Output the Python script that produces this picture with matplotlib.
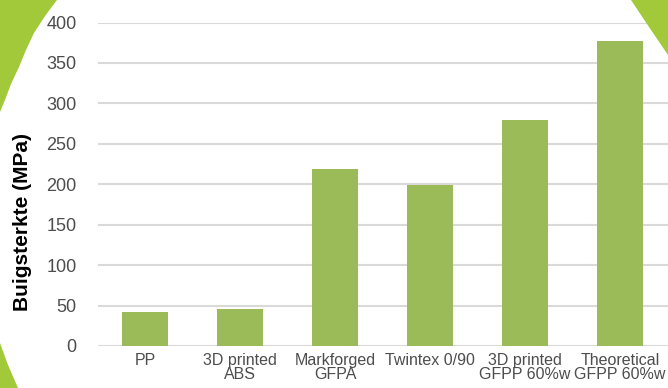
import matplotlib
matplotlib.use("Agg")
import matplotlib.pyplot as plt
from matplotlib.patches import Polygon

categories = ["PP", "3D printed\nABS", "Markforged\nGFPA", "Twintex 0/90",
              "3D printed\nGFPP 60%w", "Theoretical\nGFPP 60%w"]
strength = [42, 46, 219, 199, 279, 377]
y_ticks = [0, 50, 100, 150, 200, 250, 300, 350, 400]

W, H = 668, 388
fig = plt.figure(figsize=(W / 100, H / 100), dpi=100)
fig.patch.set_facecolor("white")

deco_green = "#a2c93a"


def px(points):
    return [(x / W, 1 - y / H) for x, y in points]


# green backdrop corners around the white panel
top_left = [(0, 0), (57, 0), (45, 16), (34, 33), (26, 50), (19, 67),
            (11, 84), (5, 100), (0, 112)]
bottom_left = [(0, 343), (8, 365), (18, 388), (0, 388)]
top_right = [(631, 0), (668, 0), (668, 55), (649, 27)]
for poly in (top_left, bottom_left, top_right):
    fig.patches.append(Polygon(px(poly), closed=True, transform=fig.transFigure,
                               facecolor=deco_green, edgecolor="none", zorder=0))

ax = fig.add_axes([97.5 / W, 1 - 346 / H, 570 / W, (346 - 22.5) / H])
ax.set_facecolor("none")
x = range(len(categories))
ax.bar(x, strength, width=0.49, color="#9bbb59", zorder=3)

ax.set_xlim(-0.5, len(categories) - 0.5)
ax.set_ylim(0, 400)
ax.set_yticks(y_ticks)
ax.set_yticklabels([str(v) for v in y_ticks])
ax.set_xticks(list(x))
ax.set_xticklabels(categories, linespacing=0.95)
ax.grid(axis="y", color="#d9d9d9", linewidth=1.5, zorder=0)
ax.set_axisbelow(True)
for s in ax.spines.values():
    s.set_visible(False)
ax.tick_params(axis="both", length=0, colors="#4d4d4d")
ax.tick_params(axis="y", pad=15, labelsize=13)
ax.tick_params(axis="x", pad=5, labelsize=11.5)
for lab in ax.get_xticklabels() + ax.get_yticklabels():
    lab.set_family("Liberation Sans")

fig.text(22 / W, 1 - 222 / H, "Buigsterkte (MPa)", rotation=90, ha="center",
         va="center", fontsize=15, fontweight="bold", family="Liberation Sans",
         color="black")

fig.savefig("out.png", dpi=100, facecolor=fig.get_facecolor())
